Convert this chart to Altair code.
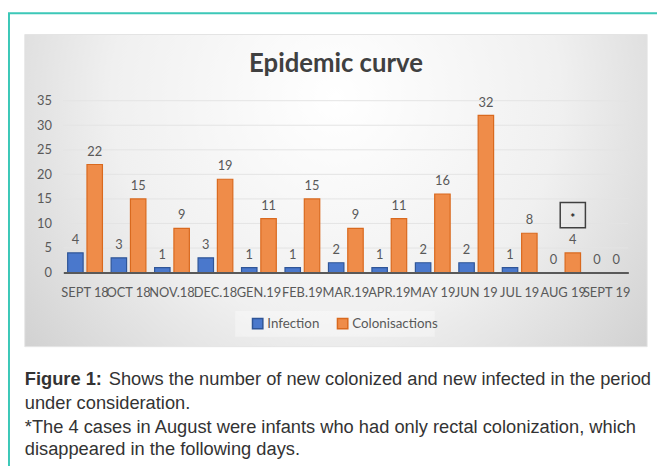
import altair as alt
import pandas as pd

# ---------------- data ----------------
months = ["SEPT 18", "OCT 18", "NOV.18", "DEC.18", "GEN.19", "FEB.19", "MAR.19",
          "APR.19", "MAY 19", "JUN 19", "JUL 19", "AUG 19", "SEPT 19"]
infection = [4, 3, 1, 3, 1, 1, 2, 1, 2, 2, 1, 0, 0]
colonisation = [22, 15, 9, 19, 11, 15, 9, 11, 16, 32, 8, 4, 0]
series_names = ["Infection", "Colonisactions"]
series_fill = ["#4A78CC", "#EF8C49"]
series_stroke = ["#2F5597", "#D9691E"]
y_ticks = [0, 5, 10, 15, 20, 25, 30, 35]
grid_ticks = [5, 10, 15, 20, 25, 30, 35]

title_text = "Epidemic curve"
marker_month = "AUG 19"
marker_series = "Colonisactions"
marker_level = 11.7
marker_text = "*"

caption_bold = "Figure 1:"
caption_line1 = "Shows the number of new colonized and new infected in the period"
caption_line2 = "under consideration."
caption_line3 = "*The 4 cases in August were infants who had only rectal colonization, which"
caption_line4 = "disappeared in the following days."

rows = []
for m, v in zip(months, infection):
    rows.append({"month": m, "series": series_names[0], "value": v})
for m, v in zip(months, colonisation):
    rows.append({"month": m, "series": series_names[1], "value": v})
df = pd.DataFrame(rows)

one = pd.DataFrame({"k": [0]})
grid_df = pd.DataFrame({"value": grid_ticks})
marker_df = pd.DataFrame({"month": [marker_month], "series": [marker_series],
                          "value": [marker_level]})

# ---------------- encodings ----------------
x_enc = alt.X("month:N", sort=months,
              scale=alt.Scale(domain=months, paddingInner=0.2, paddingOuter=0.1),
              axis=alt.Axis(title=None, labelAngle=0, ticks=False, domainColor="#595959",
                            domainWidth=2, labelFont="Lato", labelFontSize=13,
                            labelColor="#595959", labelPadding=14, zindex=1,
                            labelOverlap=False, labelLimit=0))
xoff_enc = alt.XOffset("series:N", sort=series_names,
                       scale=alt.Scale(domain=series_names, paddingInner=0.2, paddingOuter=0))
y_scale = alt.Scale(domain=[0, 35], nice=False, zero=True)
y_enc = alt.Y("value:Q", scale=y_scale,
              axis=alt.Axis(title=None, values=y_ticks, ticks=False, domain=False, grid=False,
                            labelFont="Lato", labelFontSize=13, labelColor="#595959",
                            labelPadding=12, zindex=1))

# ---------------- decorative layers ----------------
frame = alt.Chart(one).mark_rect(fillOpacity=0, stroke="#3CC8B8", strokeWidth=2).encode(
    x=alt.value(-55), x2=alt.value(1000), y=alt.value(-88.5), y2=alt.value(1000))

panel = alt.Chart(one).mark_rect(
    fill=alt.RadialGradient(
        gradient="radial", x1=0.5, y1=0.35, r1=0, x2=0.5, y2=0.35, r2=0.8,
        stops=[alt.GradientStop(offset=0, color="#ffffff"),
               alt.GradientStop(offset=0.45, color="#f0f0f0"),
               alt.GradientStop(offset=1, color="#c0c0c0")]),
    stroke="#e4e4e4", strokeWidth=1).encode(
    x=alt.value(-39), x2=alt.value(591), y=alt.value(-67), y2=alt.value(249))

legend_bg = alt.Chart(one).mark_rect(fill="#ffffff", fillOpacity=0.35).encode(
    x=alt.value(174), x2=alt.value(376), y=alt.value(213), y2=alt.value(239))

grid = alt.Chart(grid_df).mark_rule(color="#e4e4e4", strokeWidth=1).encode(y=y_enc)

# ---------------- data layers ----------------
bars = alt.Chart(df).mark_bar(strokeWidth=1.2).encode(
    x=x_enc, xOffset=xoff_enc, y=y_enc,
    color=alt.Color("series:N", scale=alt.Scale(domain=series_names, range=series_fill),
                    legend=alt.Legend(title=None, orient="none", legendX=190, legendY=219,
                                      direction="horizontal", symbolType="square",
                                      symbolSize=110, labelFont="Lato", labelFontSize=13.5,
                                      labelColor="#595959", labelOffset=3, columnPadding=14,
                                      padding=0)),
    stroke=alt.Stroke("series:N", scale=alt.Scale(domain=series_names, range=series_stroke),
                      legend=None))

labels = alt.Chart(df).mark_text(font="Lato", fontSize=13, color="#595959", dy=-9,
                                 baseline="alphabetic").encode(
    x=x_enc, xOffset=xoff_enc, y=y_enc, text="value:Q")

marker_box = alt.Chart(marker_df).mark_point(shape="square", size=650, filled=False,
                                             stroke="#404040", strokeWidth=1.5,
                                             opacity=1).encode(
    x=x_enc, xOffset=xoff_enc, y=y_enc)
marker_star = alt.Chart(marker_df).mark_text(text=marker_text, font="Lato", fontWeight="bold",
                                             fontSize=12, color="#202020", dy=3).encode(
    x=x_enc, xOffset=xoff_enc, y=y_enc)

title = alt.Chart(one).mark_text(text=title_text, font="Lato", fontWeight="bold", fontSize=26,
                                 color="#404040", align="center",
                                 baseline="alphabetic").encode(
    x=alt.value(276), y=alt.value(-29))


def cap(txt, x, y, bold=False):
    return alt.Chart(one).mark_text(text=txt, font="Liberation Sans", fontSize=18.5,
                                    fontWeight="bold" if bold else "normal",
                                    color="#333333", align="left",
                                    baseline="alphabetic").encode(
        x=alt.value(x), y=alt.value(y))


captions = [
    cap(caption_bold, -39, 288, bold=True),
    cap(caption_line1, 46, 288),
    cap(caption_line2, -39, 312),
    cap(caption_line3, -39, 336),
    cap(caption_line4, -39, 359),
]

chart = alt.layer(frame, panel, legend_bg, grid, bars, labels, marker_box, marker_star,
                  title, *captions).properties(
    width=572, height=174,
    padding={"left": 56, "top": 91, "right": 29, "bottom": 193},
    autosize=alt.AutoSizeParams(type="none"),
    background="white",
).configure_view(stroke=None)

chart.save("out.html", embed_options={"renderer": "svg", "actions": False})
